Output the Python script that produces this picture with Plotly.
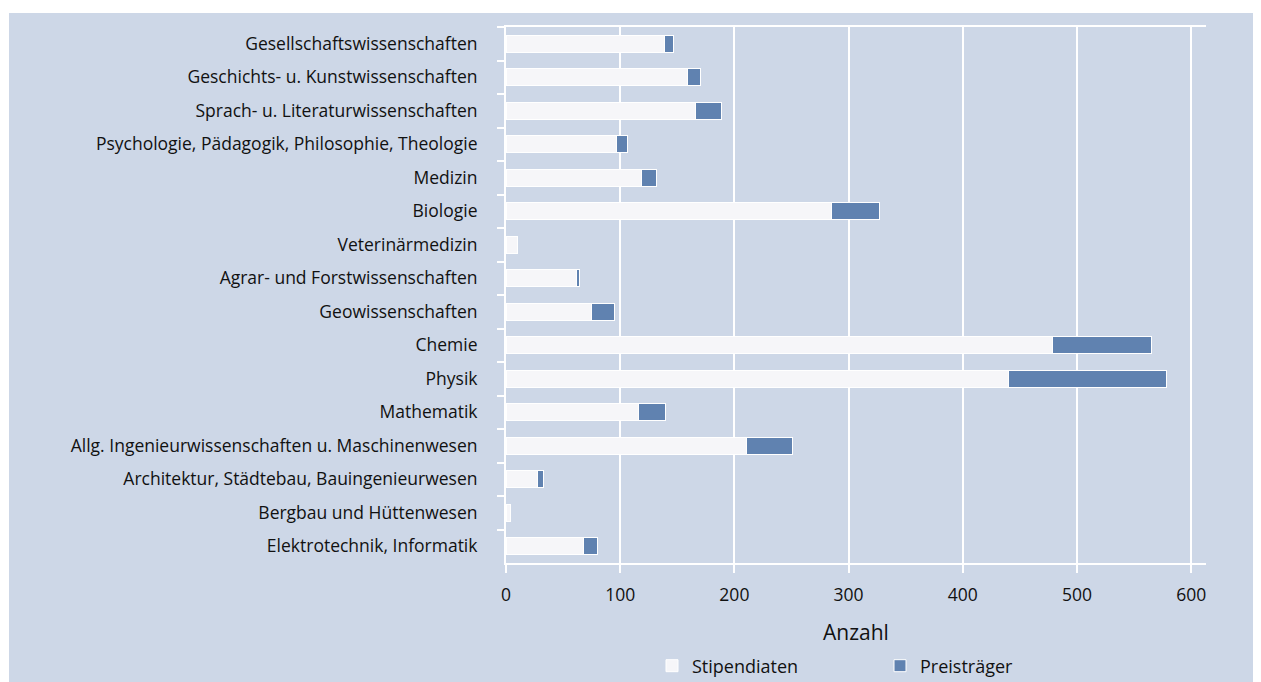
"""Stipendiaten und Preisträger nach Fachgebiet (gestapeltes Balkendiagramm)."""
import plotly.graph_objects as go

# ---------------------------------------------------------------------------
# Data
# ---------------------------------------------------------------------------

FACHGEBIETE = [
    "Gesellschaftswissenschaften",
    "Geschichts- u. Kunstwissenschaften",
    "Sprach- u. Literaturwissenschaften",
    "Psychologie, Pädagogik, Philosophie, Theologie",
    "Medizin",
    "Biologie",
    "Veterinärmedizin",
    "Agrar- und Forstwissenschaften",
    "Geowissenschaften",
    "Chemie",
    "Physik",
    "Mathematik",
    "Allg. Ingenieurwissenschaften u. Maschinenwesen",
    "Architektur, Städtebau, Bauingenieurwesen",
    "Bergbau und Hüttenwesen",
    "Elektrotechnik, Informatik",
]
STIPENDIATEN = [139, 159, 166, 97, 119, 285, 10, 62, 75, 479, 440, 116, 211, 28, 4, 68]
PREISTRAEGER = [8, 11, 23, 9, 13, 42, 0, 2, 20, 86, 138, 24, 40, 5, 0, 12]

X_TICKS = [0, 100, 200, 300, 400, 500, 600]

# ---------------------------------------------------------------------------
# Style
# ---------------------------------------------------------------------------

_BG = "#cdd7e7"
_STIP_COLOR = "#f6f6f9"
_PREIS_COLOR = "#6082b0"
_TEXT = "#111111"
_FONT = "Open Sans, sans-serif"
_FS = 17.5

# page is rendered with the default 8px body margin
OFF = 8
W, H = 1261 - OFF, 682 - OFF
# plot area in page pixels
P_LEFT, P_RIGHT, P_TOP, P_BOTTOM = 506, 1206, 27, 563
L, R = P_LEFT - OFF, W - (P_RIGHT - OFF)
T, B = P_TOP - OFF, H - (P_BOTTOM - OFF)
PW, PH = W - L - R, H - T - B


def _px(x):
    """Page x pixel -> paper coordinate."""
    return (x - OFF - L) / PW


def _py(y):
    """Page y pixel -> paper coordinate."""
    return (H - B - (y - OFF)) / PH


fig = go.Figure()

fig.add_trace(
    go.Bar(
        y=FACHGEBIETE,
        x=STIPENDIATEN,
        orientation="h",
        name="Stipendiaten",
        marker={"color": _STIP_COLOR, "line": {"color": "white", "width": 1}},
    )
)
fig.add_trace(
    go.Bar(
        y=FACHGEBIETE,
        x=PREISTRAEGER,
        orientation="h",
        name="Preisträger",
        marker={"color": _PREIS_COLOR, "line": {"color": "white", "width": 1}},
    )
)

# white strip above the blue panel
fig.add_shape(
    type="rect", xref="paper", yref="paper", layer="below",
    x0=_px(0), x1=_px(1300), y0=_py(13), y1=_py(0),
    fillcolor="white", line={"width": 0},
)
fig.add_shape(
    type="rect", xref="paper", yref="paper", layer="below",
    x0=_px(0), x1=_px(9), y0=_py(700), y1=_py(0),
    fillcolor="white", line={"width": 0},
)

fig.update_layout(
    width=W,
    height=H,
    margin={"l": L, "r": R, "t": T, "b": B, "autoexpand": False},
    paper_bgcolor=_BG,
    plot_bgcolor=_BG,
    font={"family": _FONT, "size": _FS, "color": _TEXT},
    barmode="stack",
    bargap=0.5,
    showlegend=True,
    legend={
        "orientation": "h",
        "x": _px(652),
        "xanchor": "left",
        "y": _py(666),
        "yanchor": "middle",
        "bgcolor": "rgba(0,0,0,0)",
        "entrywidth": 183,
        "font": {"size": 18, "color": _TEXT},
        "traceorder": "normal",
    },
    xaxis={
        "range": [0, 613],
        "tickvals": X_TICKS,
        "ticktext": [str(v) for v in X_TICKS],
        "showgrid": True,
        "gridcolor": "white",
        "gridwidth": 2,
        "zeroline": False,
        "showline": True,
        "linecolor": "white",
        "linewidth": 2,
        "mirror": True,
        "ticks": "outside",
        "ticklen": 8,
        "tickwidth": 2,
        "tickcolor": "white",
        "ticklabelstandoff": 7,
        "title": {"text": "Anzahl", "standoff": 20},
        "automargin": False,
    },
    yaxis={
        "autorange": "reversed",
        "showgrid": False,
        "zeroline": False,
        "showline": True,
        "linecolor": "white",
        "linewidth": 2,
        "ticks": "outside",
        "tickson": "boundaries",
        "ticklen": 7,
        "tickwidth": 2,
        "tickcolor": "white",
        "ticklabelstandoff": 23,
        "automargin": False,
    },
)

fig.write_html("out.html")
